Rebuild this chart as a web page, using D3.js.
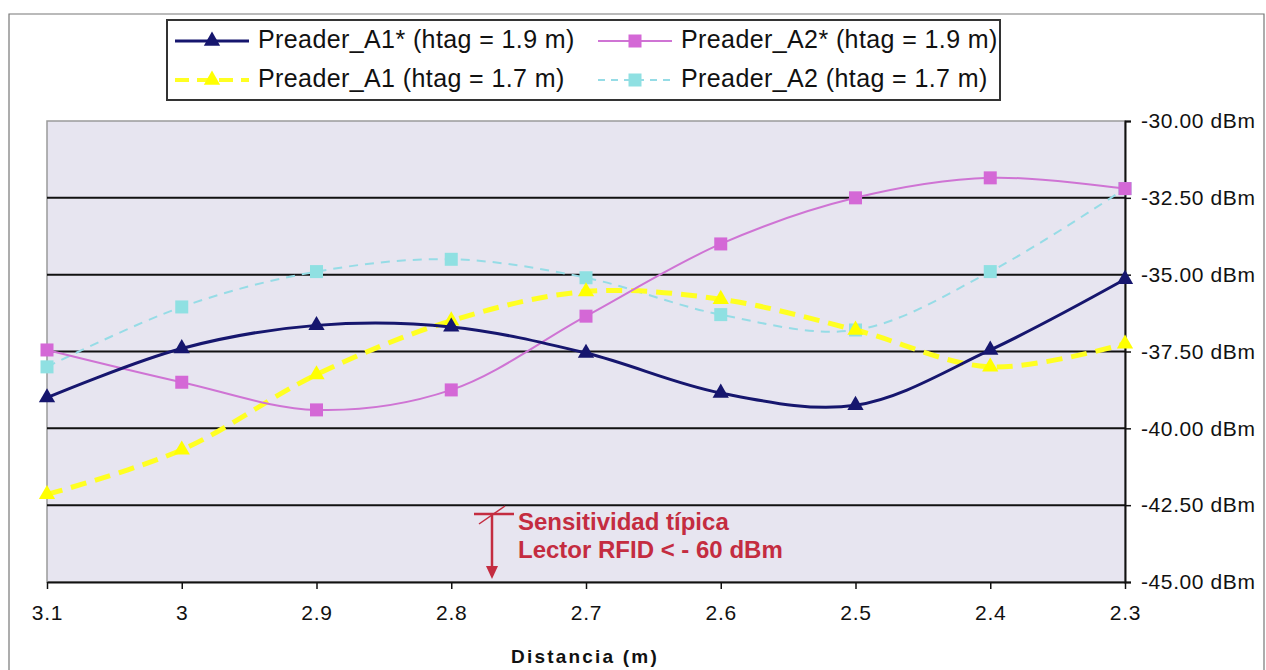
<!DOCTYPE html>
<html>
<head>
<meta charset="utf-8">
<script src="https://cdn.jsdelivr.net/npm/d3@7"></script>
<style>
  body { margin: 0; background: #fff; }
  text { font-family: "Liberation Sans", Arial, sans-serif; }
</style>
</head>
<body>
<div id="chart"></div>
<script>
// ── Data ───────────────────────────────────────────────────────────────────
const distances = ["3.1", "3", "2.9", "2.8", "2.7", "2.6", "2.5", "2.4", "2.3"];
const a1Star = [-39.0, -37.4, -36.65, -36.7, -37.55, -38.85, -39.25, -37.45, -35.15];
const a2Star = [-37.45, -38.5, -39.4, -38.75, -36.35, -34.0, -32.5, -31.85, -32.2];
const a1 = [-42.15, -40.7, -38.25, -36.5, -35.55, -35.8, -36.8, -38.0, -37.25];
const a2 = [-38.0, -36.05, -34.9, -34.5, -35.1, -36.3, -36.8, -34.9, -32.2];
const yTicks = [-30, -32.5, -35, -37.5, -40, -42.5, -45];

const series = [
  { name: "Preader_A1* (htag = 1.9 m)", values: a1Star, color: "#16166e", marker: "#16166e", shape: "tri", width: 3, dash: null },
  { name: "Preader_A2* (htag = 1.9 m)", values: a2Star, color: "#cf74d4", marker: "#d468d6", shape: "sq", width: 2, dash: null },
  { name: "Preader_A1 (htag = 1.7 m)", values: a1, color: "#ffff22", marker: "#ffff00", shape: "tri", width: 5, dash: "16,9" },
  { name: "Preader_A2 (htag = 1.7 m)", values: a2, color: "#96dce6", marker: "#8fe0e2", shape: "sq", width: 2, dash: "9,7" },
];

// ── SVG ────────────────────────────────────────────────────────────────────
const W = 1266, H = 670;
const svg = d3.select("#chart").append("svg").attr("width", W).attr("height", H);

// chart area border
svg.append("path")
  .attr("d", `M9,${H} L9,14 L${W - 2},14 L${W - 2},${H}`)
  .attr("fill", "none").attr("stroke", "#777").attr("stroke-width", 1.2);

const plot = { left: 47, right: 1125, top: 121, bottom: 582 };

const x = d3.scalePoint().domain(distances).range([plot.left, plot.right]);
const y = d3.scaleLinear().domain([-45, -30]).range([plot.bottom, plot.top]);

// ── Plot background ────────────────────────────────────────────────────────
svg.append("rect")
  .attr("x", plot.left).attr("y", plot.top)
  .attr("width", plot.right - plot.left).attr("height", plot.bottom - plot.top)
  .attr("fill", "#e7e5f0").attr("stroke", "#9a9a9a").attr("stroke-width", 1.5);

// ── Grid lines ─────────────────────────────────────────────────────────────
svg.append("g")
  .selectAll("line")
  .data(yTicks.filter((d) => d !== -30 && d !== -45))
  .join("line")
  .attr("x1", plot.left).attr("x2", plot.right)
  .attr("y1", (d) => y(d)).attr("y2", (d) => y(d))
  .attr("stroke", "#111").attr("stroke-width", 2);

// ── Axes ───────────────────────────────────────────────────────────────────
const yAxis = svg.append("g")
  .attr("transform", `translate(${plot.right},0)`)
  .call(d3.axisRight(y).tickValues(yTicks).tickSize(6).tickPadding(10)
    .tickFormat((d) => `${d.toFixed(2)} dBm`));
yAxis.select(".domain").attr("stroke", "#111").attr("stroke-width", 2);
yAxis.selectAll(".tick line").attr("stroke", "#111").attr("stroke-width", 1.5);
yAxis.selectAll("text").attr("font-size", 21).attr("fill", "#111")
  .attr("letter-spacing", 0.6)
  .attr("font-family", "Liberation Sans, Arial, sans-serif");

const xAxis = svg.append("g")
  .attr("transform", `translate(0,${plot.bottom})`)
  .call(d3.axisBottom(x).tickSize(7).tickPadding(16).tickSizeOuter(0));
xAxis.select(".domain").attr("stroke", "#111").attr("stroke-width", 2);
xAxis.selectAll(".tick line").attr("stroke", "#111").attr("stroke-width", 1.5);
xAxis.selectAll("text").attr("font-size", 21).attr("fill", "#111")
  .attr("letter-spacing", 0.8)
  .attr("font-family", "Liberation Sans, Arial, sans-serif");

svg.append("text")
  .attr("x", 585).attr("y", 663)
  .attr("text-anchor", "middle")
  .attr("font-size", 19).attr("font-weight", "bold")
  .attr("letter-spacing", 2.2)
  .attr("fill", "#111")
  .text("Distancia (m)");

// ── Lines and markers ──────────────────────────────────────────────────────
const line = d3.line()
  .x((d, i) => x(distances[i]))
  .y((d) => y(d))
  .curve(d3.curveCatmullRom.alpha(0.5));

const triPath = d3.symbol().type(d3.symbolTriangle).size(115);

function drawMarker(g, shape, color, cx, cy) {
  if (shape === "tri") {
    g.append("path").attr("d", triPath())
      .attr("transform", `translate(${cx},${cy})`)
      .attr("fill", color);
  } else {
    g.append("rect")
      .attr("x", cx - 6.5).attr("y", cy - 6.5)
      .attr("width", 13).attr("height", 13)
      .attr("fill", color);
  }
}

// draw in reverse so the first series stays on top
[...series].reverse().forEach((s) => {
  const g = svg.append("g");
  g.append("path")
    .datum(s.values)
    .attr("d", line)
    .attr("fill", "none")
    .attr("stroke", s.color)
    .attr("stroke-width", s.width)
    .attr("stroke-dasharray", s.dash);
  s.values.forEach((v, i) => drawMarker(g, s.shape, s.marker, x(distances[i]), y(v)));
});

// ── Annotation ─────────────────────────────────────────────────────────────
const red = "#c42c40";
const ann = svg.append("g");
ann.append("line").attr("x1", 474).attr("x2", 514).attr("y1", 514).attr("y2", 514)
  .attr("stroke", red).attr("stroke-width", 2.5);
ann.append("line").attr("x1", 479).attr("x2", 505).attr("y1", 524).attr("y2", 506)
  .attr("stroke", red).attr("stroke-width", 1.5);
ann.append("line").attr("x1", 492).attr("x2", 492).attr("y1", 514).attr("y2", 570)
  .attr("stroke", red).attr("stroke-width", 2.5);
ann.append("path").attr("d", "M486,566 L498,566 L492,579 Z").attr("fill", red);
ann.append("text").attr("x", 518).attr("y", 530)
  .attr("font-size", 24).attr("font-weight", "bold").attr("fill", red)
  .text("Sensitividad típica");
ann.append("text").attr("x", 518).attr("y", 558)
  .attr("font-size", 24).attr("font-weight", "bold").attr("fill", red)
  .text("Lector RFID < - 60 dBm");

// ── Legend ─────────────────────────────────────────────────────────────────
const legend = svg.append("g");
legend.append("rect")
  .attr("x", 167).attr("y", 20).attr("width", 833).attr("height", 80)
  .attr("fill", "#fff").attr("stroke", "#333").attr("stroke-width", 2);

const legPos = [[175, 41], [598, 41], [175, 80], [598, 80]];
series.forEach((s, i) => {
  const [lx, ly] = legPos[i];
  const row = legend.append("g");
  row.append("line")
    .attr("x1", lx).attr("x2", lx + 74).attr("y1", ly).attr("y2", ly)
    .attr("stroke", s.color).attr("stroke-width", s.width === 5 ? 4 : s.width)
    .attr("stroke-dasharray", s.dash ? (s.width === 5 ? "14,8" : "7,6") : null);
  drawMarker(row, s.shape, s.marker, lx + 37, ly);
  row.append("text")
    .attr("x", lx + 83).attr("y", ly + 7)
    .attr("font-size", 25).attr("fill", "#111")
    .attr("letter-spacing", 0.4)
    .text(s.name);
});
</script>
</body>
</html>
